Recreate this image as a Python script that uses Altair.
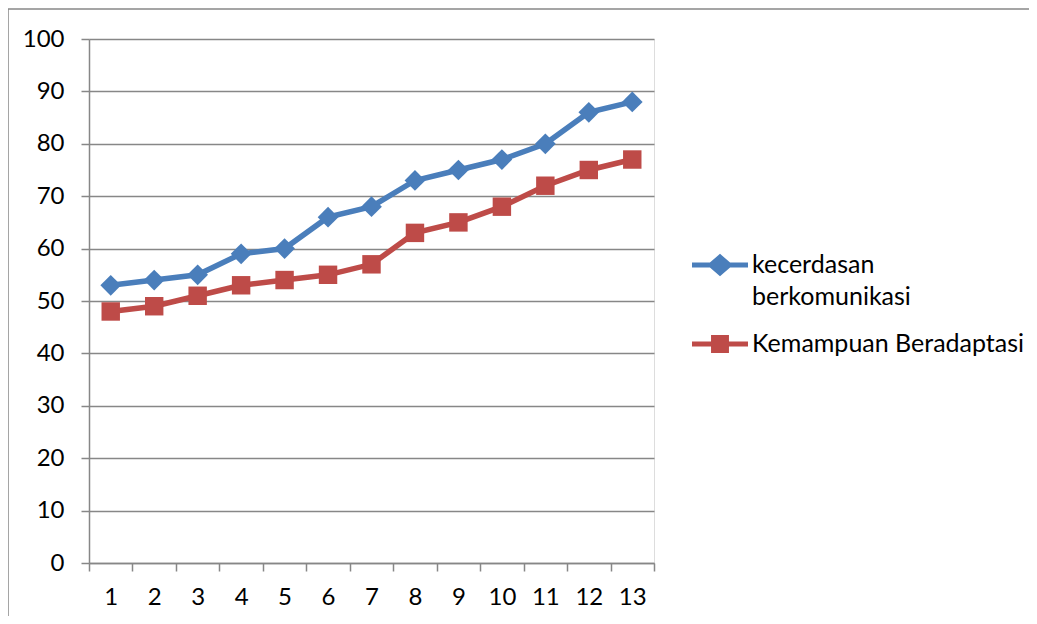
import altair as alt
import pandas as pd

x_labels = list(range(1, 14))
kecerdasan = [53, 54, 55, 59, 60, 66, 68, 73, 75, 77, 80, 86, 88]
kemampuan = [48, 49, 51, 53, 54, 55, 57, 63, 65, 68, 72, 75, 77]
series = ["kecerdasan berkomunikasi", "Kemampuan Beradaptasi"]
colors = ["#4A7EBB", "#BE4B48"]
y_ticks = list(range(0, 101, 10))

rows = []
for i, x in enumerate(x_labels):
    rows.append({"x": x, "value": kecerdasan[i], "series": series[0]})
    rows.append({"x": x, "value": kemampuan[i], "series": series[1]})
df = pd.DataFrame(rows)

FONT = "Lato"
FS = 24
GRAY = "#878787"

xenc = alt.X(
    "x:O",
    scale=alt.Scale(paddingInner=0, paddingOuter=0),
    axis=alt.Axis(title=None, labelAngle=0, tickBand="extent", grid=False,
                  domainColor=GRAY, domainWidth=1.5, tickColor=GRAY, tickWidth=1.5,
                  tickSize=8, labelPadding=14, labelFont=FONT, labelFontSize=FS,
                  labelColor="#000000"),
)
yenc = alt.Y(
    "value:Q",
    scale=alt.Scale(domain=[0, 100], nice=False),
    axis=alt.Axis(title=None, values=y_ticks, grid=True, gridColor=GRAY, gridWidth=1.5,
                  domainColor=GRAY, domainWidth=1.5, tickColor=GRAY, tickWidth=1.5,
                  tickSize=8, labelPadding=17, labelFont=FONT, labelFontSize=FS,
                  labelColor="#000000"),
)
color_scale = alt.Scale(domain=series, range=colors)
color_enc = alt.Color("series:N", scale=color_scale)

base = alt.Chart(df)

lines = base.mark_line(strokeWidth=5.5).encode(x=xenc, y=yenc, color=color_enc)

pts_blue = base.transform_filter(alt.datum.series == series[0]).mark_point(
    shape="diamond", filled=True, size=430, opacity=1
).encode(x=xenc, y=yenc, color=color_enc)

pts_red = base.transform_filter(alt.datum.series == series[1]).mark_point(
    shape="square", filled=True, size=340, opacity=1
).encode(x=xenc, y=yenc, color=color_enc)

diamond_path = ("M-1,-0.09 L-0.36,-0.09 L0,-0.4 L0.36,-0.09 L1,-0.09 L1,0.09 "
                "L0.36,0.09 L0,0.4 L-0.36,0.09 L-1,0.09 Z")
square_path = ("M-1,-0.09 L-0.32,-0.09 L-0.32,-0.32 L0.32,-0.32 L0.32,-0.09 L1,-0.09 "
               "L1,0.09 L0.32,0.09 L0.32,0.32 L-0.32,0.32 L-0.32,0.09 L-1,0.09 Z")

legend_layer = base.transform_filter("false").mark_point(filled=True, opacity=1).encode(
    x=xenc, y=yenc,
    color=alt.Color("series:N", scale=color_scale, legend=alt.Legend(
        title=None, orient="none", legendX=603, legendY=198,
        symbolSize=3136, symbolOpacity=1, symbolStrokeWidth=0,
        labelFont=FONT, labelFontSize=25, labelColor="#000000", labelLimit=500,
        labelOffset=4, rowPadding=6,
        labelExpr="datum.label == 'kecerdasan berkomunikasi' ? ['kecerdasan', 'berkomunikasi'] : datum.label",
    )),
    shape=alt.Shape("series:N", scale=alt.Scale(domain=series, range=[diamond_path, square_path])),
)

frame_df = pd.DataFrame({"k": [0]})
frame_left = alt.Chart(frame_df).mark_rule(color=GRAY, strokeWidth=1.5).encode(
    x=alt.value(-81), y=alt.value(-30), y2=alt.value(600)
)
frame_top = alt.Chart(frame_df).mark_rule(color=GRAY, strokeWidth=1.5).encode(
    x=alt.value(-81), x2=alt.value(960), y=alt.value(-30)
)

chart = alt.layer(lines, pts_blue, pts_red, legend_layer, frame_left, frame_top).properties(
    width=565, height=524,
    padding={"left": 81, "top": 31, "right": 375, "bottom": 53},
    autosize="none",
).configure_view(stroke=None).configure(style={"guide-label": {"lineHeight": 32}})

chart.save("out.html", embed_options={"renderer": "svg", "actions": False})
